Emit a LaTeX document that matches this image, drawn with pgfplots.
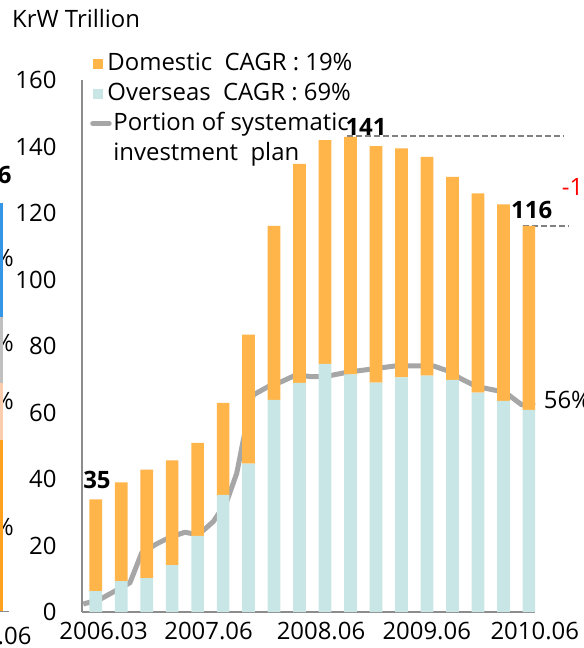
\documentclass[border=0pt]{standalone}
\usepackage{pgfplots}
\pgfplotsset{compat=1.18}
\usepackage{fontspec}
\setmainfont{Open Sans}

\definecolor{domestic}{RGB}{255,181,74}
\definecolor{overseas}{RGB}{200,230,230}
\definecolor{planline}{RGB}{166,166,166}
\definecolor{axisgray}{RGB}{140,140,140}
\definecolor{dashgray}{RGB}{128,128,128}
\definecolor{fragblue}{RGB}{52,150,228}
\definecolor{fraggray}{RGB}{192,192,192}
\definecolor{fragpink}{RGB}{250,205,175}
\definecolor{fragorange}{RGB}{255,160,30}

\begin{document}
\begin{tikzpicture}[font=\fontsize{24}{29}\selectfont]
\useasboundingbox (0bp,0bp) rectangle (584bp,-648bp);
\clip (0bp,0bp) rectangle (584bp,-648bp);

\node[anchor=base west, inner sep=0pt] at (12bp,-27bp) {KrW Trillion};

% edge of the neighbouring chart (cut off at the left border)
\begin{axis}[
    at={(-29bp,-611bp)}, anchor=south west,
    scale only axis, width=38.2bp, height=408bp,
    xmin=-1, xmax=0.5, ymin=0, ymax=100,
    ybar stacked, bar width=12.7bp,
    axis x line*=bottom, axis y line=none,
    x axis line style={axisgray, line width=1bp},
    xtick=\empty, ytick=\empty,
    clip=false,
]
\addplot[fill=fragorange, draw=none] coordinates {(0,42)};
\addplot[fill=fragpink, draw=none] coordinates {(0,14)};
\addplot[fill=fraggray, draw=none] coordinates {(0,16)};
\addplot[fill=fragblue, draw=none] coordinates {(0,28)};
\node[anchor=base east, inner sep=0pt] at (axis cs:0.69,18.6) {42\%};
\node[anchor=base east, inner sep=0pt] at (axis cs:0.69,49.3) {14\%};
\node[anchor=base east, inner sep=0pt] at (axis cs:0.69,63.6) {16\%};
\node[anchor=base east, inner sep=0pt] at (axis cs:0.69,84.4) {28\%};
\node[anchor=base east, inner sep=0pt, font=\fontsize{24}{29}\selectfont\bfseries] at (axis cs:0.6,104.9) {116};
\node[anchor=base east, inner sep=0pt] at (axis cs:1.38,-8.1) {2010.06};
\end{axis}

\begin{axis}[
    at={(82bp,-612bp)}, anchor=south west,
    scale only axis, width=453bp, height=532bp,
    xmin=-0.5377, xmax=17.24, ymin=0, ymax=160,
    ybar stacked, bar width=12.7bp,
    axis x line*=bottom, axis y line*=left,
    axis line style={axisgray, line width=1.2bp},
    major tick length=0pt,
    ytick={0,20,...,160},
    yticklabel style={xshift=-22bp},
    xtick={0.31,4.43,8.84,12.99,17.23},
    xticklabels={2006.03,2007.06,2008.06,2009.06,2010.06},
    xticklabel style={yshift=-7bp},
    /pgf/number format/assume math mode=true,
    tick label style={font=\fontsize{24}{29}\selectfont},
    clip=false,
    legend cell align=left,
    legend style={at={(0.0243,1.0545)}, anchor=north west,
        draw=none, fill=none, inner sep=0pt, outer sep=0pt,
        row sep=5bp, column sep=5bp,
        font=\fontsize{24}{29}\selectfont,
        nodes={inner xsep=0pt, inner ysep=1bp, text height=18bp, text depth=5bp}},
]
% overseas (bottom)
\addplot[fill=overseas, draw=none, forget plot] coordinates {
(0,6.3) (1,9.3) (2,10.2) (3,14.1) (4,22.9) (5,35.2) (6,44.6) (7,63.8) (8,68.9)
(9,74.6) (10,71.5) (11,69.0) (12,70.6) (13,71.1) (14,69.8) (15,66.0) (16,63.5) (17,60.8)};
% domestic (top)
\addplot[fill=domestic, draw=none, forget plot] coordinates {
(0,27.6) (1,29.7) (2,32.6) (3,31.5) (4,28.0) (5,27.7) (6,38.8) (7,52.3) (8,65.9)
(9,67.3) (10,71.4) (11,71.1) (12,68.8) (13,65.8) (14,61.1) (15,59.9) (16,59.1) (17,55.3)};
% portion of systematic investment plan
\addplot[planline, line width=5bp, line join=round, sharp plot, stack plots=false, forget plot] coordinates {
(-0.487,2.4) (0.169,3.8) (1.346,8.8) (1.805,17.8) (2.394,20.5) (2.916,22.5) (3.505,24.0)
(4.027,23.2) (4.615,27.2) (5.141,33.2) (5.534,41.7) (5.793,51.7) (6.185,65.3) (6.774,67.8)
(7.300,69.3) (7.889,71.4) (8.410,70.8) (9.0,70.8) (9.863,72.1) (10.765,73.0) (11.746,74.0)
(12.07,74.0) (13.25,74.0) (13.905,72.3) (14.298,70.3) (14.953,67.8) (15.475,67.0)
(16.063,66.1) (16.719,62.3) (17.241,63.1)};

\addlegendimage{legend image code/.code={\fill[domestic] (0bp,-4.5bp) rectangle (9bp,4.5bp);}}
\addlegendentry{Domestic\ \ CAGR : 19\%}
\addlegendimage{legend image code/.code={\fill[overseas] (0bp,-4.5bp) rectangle (9bp,4.5bp);}}
\addlegendentry{Overseas\ \ CAGR : 69\%}
\addlegendimage{legend image code/.code={\draw[overlay, planline, line width=5bp, line cap=round] (-0.5bp,0bp) -- (16bp,0bp);}}
\addlegendentry{\hspace*{6bp}Portion of systematic}
\addlegendimage{empty legend}
\addlegendentry{\hspace*{6bp}investment\ \ plan}

\node[anchor=base, inner sep=0pt, font=\fontsize{24}{29}\selectfont\bfseries] at (axis cs:0.05,37.2) {35};
\node[anchor=base, inner sep=0pt, font=\fontsize{24}{29}\selectfont\bfseries] at (axis cs:10.61,143.2) {141};
\node[anchor=base, inner sep=0pt, font=\fontsize{24}{29}\selectfont\bfseries] at (axis cs:17.11,118.4) {116};
\draw[dashgray, line width=1.5bp, dash pattern=on 6bp off 3bp] (axis cs:9.85,143.2) -- (axis cs:18.35,143.2);
\draw[dashgray, line width=1.5bp, dash pattern=on 6bp off 3bp] (axis cs:16.78,116.1) -- (axis cs:18.55,116.1);
\node[anchor=base west, inner sep=0pt] at (axis cs:17.58,61.1) {56\%};
\node[anchor=base west, inner sep=0pt, text=red] at (axis cs:18.29,125.4) {-18\%};
\end{axis}
\end{tikzpicture}
\end{document}
